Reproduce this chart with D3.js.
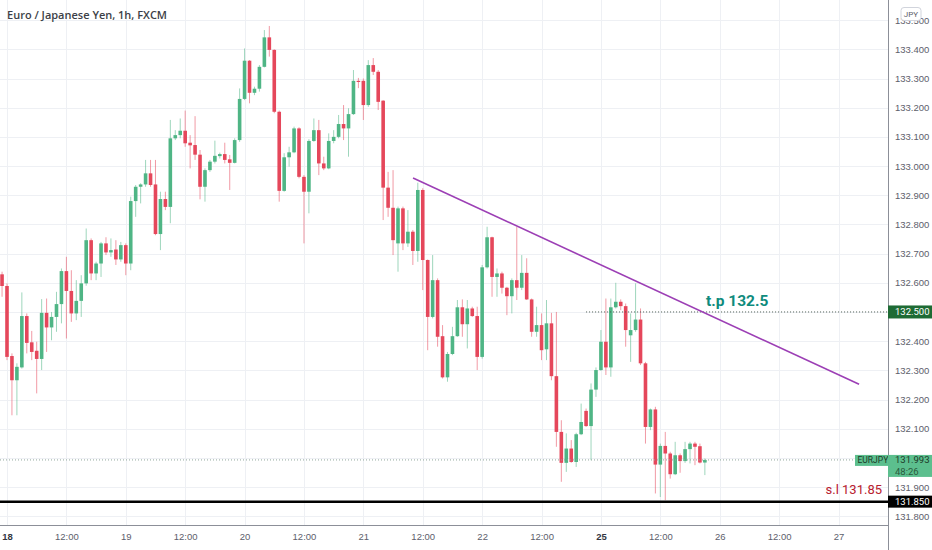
<!DOCTYPE html>
<meta charset="utf-8">
<style>
body { margin: 0; background: #fff; }
svg { display: block; font-family: Roboto, sans-serif; }
.grid line { stroke: #eef0f4; stroke-width: 1px; shape-rendering: crispEdges; }
.axis text { fill: #5d606b; font-size: 9.5px; }
.axis path, .axis line { display: none; }
</style>
<body>
<script src="https://d3js.org/d3.v7.min.js"></script>
<script>

// hourly candles, bar 0 = 18th 00:00 (bar -1 is the last hour of the 17th)
var firstBar = -1;
var opens  = [132.629,132.589,132.349,132.266,132.310,132.486,132.396,132.367,132.339,132.497,132.447,132.483,132.527,132.640,132.572,132.495,132.538,132.598,132.746,132.632,132.666,132.735,132.704,132.714,132.680,132.729,132.666,132.880,132.929,132.937,132.975,132.937,132.767,132.887,132.860,133.095,133.106,133.121,133.080,133.072,133.039,132.929,132.986,133.015,133.034,133.041,133.023,133.011,133.089,133.230,133.361,133.251,133.265,133.340,133.441,133.398,133.186,132.915,133.030,133.047,133.129,132.963,132.912,133.086,133.123,133.009,132.992,133.086,133.100,133.144,133.129,133.178,133.292,133.292,133.209,133.346,133.323,133.224,132.926,132.857,132.735,132.855,132.735,132.775,132.709,132.918,132.678,132.483,132.609,132.417,132.276,132.356,132.417,132.516,132.458,132.512,132.486,132.346,132.653,132.756,132.620,132.632,132.583,132.554,132.609,132.583,132.634,132.543,132.432,132.455,132.372,132.461,132.280,132.089,131.983,132.032,131.986,132.081,132.161,132.109,132.234,132.301,132.398,132.310,132.516,132.535,132.520,132.420,132.438,132.474,132.324,132.106,132.166,131.977,132.041,132.015,131.944,132.009,131.989,132.030,132.049,132.040,131.984];
var highs  = [132.638,132.598,132.358,132.324,132.567,132.495,132.435,132.398,132.544,132.546,132.500,132.569,132.649,132.689,132.643,132.609,132.626,132.786,132.752,132.672,132.740,132.756,132.752,132.746,132.740,132.735,132.895,132.935,132.941,133.021,133.021,133.021,132.912,132.912,133.158,133.123,133.163,133.190,133.106,133.171,133.055,132.992,133.021,133.087,133.046,133.080,133.038,133.095,133.266,133.403,133.363,133.272,133.346,133.466,133.480,133.400,133.190,133.044,133.066,133.135,133.133,132.969,133.092,133.163,133.158,133.032,133.112,133.123,133.175,133.209,133.198,133.329,133.302,133.300,133.363,133.370,133.329,133.226,132.980,132.986,132.861,132.861,132.849,132.781,132.943,132.924,132.680,132.695,132.615,132.455,132.363,132.449,132.541,132.543,132.541,132.518,132.518,132.661,132.792,132.758,132.649,132.638,132.586,132.615,132.792,132.695,132.684,132.546,132.518,132.495,132.541,132.497,132.500,132.129,132.084,132.061,132.086,132.186,132.169,132.255,132.310,132.438,132.546,132.546,132.600,132.543,132.529,132.495,132.598,132.512,132.329,132.169,132.175,132.049,132.089,132.021,132.055,132.015,132.055,132.055,132.055,132.049,131.998];
var lows   = [132.552,132.335,132.146,132.146,132.306,132.358,132.335,132.221,132.301,132.363,132.403,132.432,132.461,132.409,132.466,132.472,132.483,132.590,132.609,132.609,132.620,132.695,132.689,132.661,132.672,132.626,132.643,132.826,132.872,132.929,132.929,132.763,132.712,132.849,132.804,133.089,133.095,133.066,132.992,133.021,132.886,132.878,132.980,133.009,133.026,133.009,132.918,133.009,133.083,133.226,133.215,133.243,133.255,133.338,133.375,133.181,132.878,132.912,132.998,133.044,132.958,132.735,132.838,133.083,132.969,132.986,132.989,133.078,133.095,133.089,133.032,133.175,133.267,133.158,133.203,133.312,133.192,132.815,132.826,132.695,132.638,132.712,132.723,132.661,132.672,132.575,132.369,132.478,132.381,132.272,132.261,132.352,132.415,132.415,132.375,132.483,132.301,132.340,132.649,132.552,132.552,132.563,132.489,132.495,132.541,132.575,132.541,132.415,132.415,132.335,132.335,132.266,132.038,131.918,131.952,131.983,131.969,132.078,132.106,131.992,132.209,132.298,132.284,132.278,132.512,132.506,132.381,132.329,132.432,132.318,132.049,132.095,131.878,131.866,131.855,131.929,131.941,131.949,131.983,131.981,131.975,131.981,131.941];
var closes = [132.589,132.346,132.266,132.312,132.486,132.394,132.363,132.339,132.497,132.447,132.483,132.527,132.640,132.572,132.495,132.538,132.598,132.746,132.632,132.666,132.735,132.704,132.712,132.680,132.729,132.666,132.880,132.929,132.937,132.975,132.935,132.767,132.887,132.860,133.095,133.106,133.121,133.078,133.071,133.039,132.929,132.986,133.015,133.035,133.041,133.021,133.011,133.089,133.230,133.361,133.251,133.265,133.340,133.441,133.398,133.186,132.915,133.030,133.047,133.129,132.963,132.912,133.086,133.123,133.009,132.992,133.086,133.100,133.144,133.129,133.178,133.292,133.288,133.209,133.346,133.323,133.220,132.926,132.857,132.746,132.855,132.735,132.775,132.709,132.918,132.678,132.483,132.609,132.415,132.276,132.356,132.417,132.516,132.458,132.512,132.486,132.346,132.653,132.756,132.620,132.632,132.583,132.554,132.609,132.583,132.634,132.543,132.432,132.455,132.369,132.461,132.280,132.089,131.983,132.032,131.986,132.081,132.123,132.109,132.234,132.301,132.398,132.310,132.516,132.535,132.520,132.438,132.438,132.474,132.324,132.106,132.166,131.977,132.041,132.015,131.944,132.009,131.989,132.030,132.049,132.038,131.984,131.993];

// time axis ticks (bar index) and labels
var timeTicks  = [0,12,24,36,48,60,72,84,96,108,120,132,144,156,168];
var timeLabels = ["18","12:00","19","12:00","20","12:00","21","12:00","22","12:00","25","12:00","26","12:00","27"];
var boldLabels = ["18","25"];

// price grid levels; 132.000 sits under the live price tag, so it gets no label
var priceTicks = [131.8,131.9,132.0,132.1,132.2,132.3,132.4,132.5,132.6,132.7,132.8,132.9,133.0,133.1,133.2,133.3,133.4,133.5];
var priceLabels = [131.8,131.9,132.1,132.2,132.3,132.4,132.6,132.7,132.8,132.9,133.0,133.1,133.2,133.3,133.4,133.5];

// drawings
var trendBars   = [82.04, 172.16];
var trendPrices = [132.959, 132.252];
var tpPrice = 132.5, tpFromBar = 117;
var slPrice = 131.85;
var lastPrice = 131.993;

var W = 932, H = 550, plotW = 888, plotH = 525;

var candles = opens.map(function (o, k) {
  return { bar: firstBar + k, o: o, h: highs[k], l: lows[k], c: closes[k] };
});

var x = d3.scaleLinear().domain([-1.414, 178]).range([0, plotW]);
var y = d3.scaleLinear().domain([131.770, 133.569]).range([plotH, 0]);

var up = "#4fb585", down = "#e5475b";
var fmt = d3.format(".3f");

var svg = d3.select("body").append("svg")
    .attr("width", W)
    .attr("height", H);

// grid
var grid = svg.append("g").attr("class", "grid");
grid.selectAll(".h").data(priceTicks).enter().append("line")
    .attr("x1", 0).attr("x2", plotW)
    .attr("y1", function (d) { return Math.round(y(d)) + 0.5; })
    .attr("y2", function (d) { return Math.round(y(d)) + 0.5; });
grid.selectAll(".v").data(timeTicks).enter().append("line")
    .attr("y1", 0).attr("y2", plotH)
    .attr("x1", function (d) { return Math.round(x(d)) + 0.5; })
    .attr("x2", function (d) { return Math.round(x(d)) + 0.5; });

// candles
var cg = svg.append("g");
cg.selectAll(".wick").data(candles).enter().append("line")
    .attr("x1", function (d) { return x(d.bar); })
    .attr("x2", function (d) { return x(d.bar); })
    .attr("y1", function (d) { return y(d.h); })
    .attr("y2", function (d) { return y(d.l); })
    .attr("stroke", function (d) { return d.c >= d.o ? up : down; })
    .attr("stroke-opacity", 0.55)
    .attr("stroke-width", 1);
cg.selectAll(".body").data(candles).enter().append("rect")
    .attr("x", function (d) { return x(d.bar) - 1.8; })
    .attr("width", 3.6)
    .attr("y", function (d) { return y(Math.max(d.o, d.c)); })
    .attr("height", function (d) { return Math.max(1, Math.abs(y(d.o) - y(d.c))); })
    .attr("fill", function (d) { return d.c >= d.o ? up : down; });

// last price line
svg.append("line")
    .attr("x1", 0).attr("x2", plotW)
    .attr("y1", y(lastPrice)).attr("y2", y(lastPrice))
    .attr("stroke", "#8fa69a").attr("stroke-width", 1)
    .attr("stroke-dasharray", "1,2");

// take profit ray
svg.append("line")
    .attr("x1", x(tpFromBar)).attr("x2", plotW)
    .attr("y1", y(tpPrice)).attr("y2", y(tpPrice))
    .attr("stroke", "#4a5a50").attr("stroke-width", 1)
    .attr("stroke-dasharray", "1,2");

// stop loss line
svg.append("line")
    .attr("x1", 0).attr("x2", plotW)
    .attr("y1", y(slPrice)).attr("y2", y(slPrice))
    .attr("stroke", "#000").attr("stroke-width", 2.5);

// trend line
svg.append("line")
    .attr("x1", x(trendBars[0])).attr("y1", y(trendPrices[0]))
    .attr("x2", x(trendBars[1])).attr("y2", y(trendPrices[1]))
    .attr("stroke", "#9c3fb5").attr("stroke-width", 1.6);

// text labels
svg.append("text")
    .attr("x", 706).attr("y", 306)
    .attr("fill", "#0f8b7d")
    .style("font-size", "15.5px").style("font-weight", "bold")
    .text("t.p 132.5");

svg.append("text")
    .attr("x", 882).attr("y", 493.5)
    .attr("text-anchor", "end")
    .attr("fill", "#b8202e")
    .style("font-size", "13px")
    .text("s.l 131.85");

svg.append("text")
    .attr("x", 7).attr("y", 18.5)
    .attr("fill", "#3c3f47")
    .style("font-family", "'Open Sans', sans-serif")
    .style("font-size", "11px").style("font-weight", 600)
    .text("Euro / Japanese Yen, 1h, FXCM");

// axes
svg.append("line")
    .attr("x1", plotW + 0.5).attr("x2", plotW + 0.5)
    .attr("y1", 0).attr("y2", H)
    .attr("stroke", "#8c8f98");
svg.append("line")
    .attr("x1", 0).attr("x2", plotW)
    .attr("y1", plotH + 0.5).attr("y2", plotH + 0.5)
    .attr("stroke", "#8c8f98");

svg.append("g")
    .attr("class", "axis")
    .attr("transform", "translate(" + plotW + ",0)")
    .call(d3.axisRight(y).tickValues(priceLabels).tickFormat(fmt).tickSize(0).tickPadding(7));

svg.append("g")
    .attr("class", "axis")
    .attr("transform", "translate(0," + plotH + ")")
    .call(d3.axisBottom(x).tickValues(timeTicks)
        .tickFormat(function (d, i) { return timeLabels[i]; })
        .tickSize(0).tickPadding(8))
  .selectAll("text")
    .style("font-weight", function (d, i) { return boldLabels.indexOf(timeLabels[i]) >= 0 ? "bold" : null; })
    .style("fill", function (d, i) { return boldLabels.indexOf(timeLabels[i]) >= 0 ? "#33363f" : null; });

// price badges on the axis
function badge(price, h, fill, color, label) {
  var g = svg.append("g");
  g.append("rect")
      .attr("x", plotW).attr("y", y(price) - h / 2)
      .attr("width", W - plotW).attr("height", h)
      .attr("fill", fill);
  g.append("text")
      .attr("x", plotW + 7).attr("y", y(price) + 3.4)
      .attr("fill", color).style("font-size", "9.5px")
      .text(label);
  return g;
}

badge(tpPrice, 13, "#1e6b34", "#fff", fmt(tpPrice));
badge(slPrice, 12, "#000", "#fff", fmt(slPrice));

// current price: symbol tag + price and countdown
svg.append("rect")
    .attr("x", 855).attr("y", y(lastPrice) - 5)
    .attr("width", plotW - 855).attr("height", 11)
    .attr("fill", "#5cbf8e");
svg.append("text")
    .attr("x", 857.5).attr("y", y(lastPrice) + 3.2)
    .attr("fill", "#1c3a28").style("font-size", "8.5px")
    .text("EURJPY");
svg.append("rect")
    .attr("x", plotW).attr("y", y(lastPrice) - 5)
    .attr("width", W - plotW).attr("height", 22)
    .attr("fill", "#5cbf8e");
svg.append("text")
    .attr("x", plotW + 7).attr("y", y(lastPrice) + 3.5)
    .attr("fill", "#1c3a28").style("font-size", "9.5px")
    .text(fmt(lastPrice));
svg.append("text")
    .attr("x", plotW + 7).attr("y", y(lastPrice) + 15)
    .attr("fill", "#2a5a3c").style("font-size", "9.5px")
    .text("48:26");

// currency badge
svg.append("rect")
    .attr("x", 901).attr("y", 7.5)
    .attr("width", 20).attr("height", 13).attr("rx", 3)
    .attr("fill", "#fff").attr("stroke", "#d1d4dc");
svg.append("text")
    .attr("x", 911).attr("y", 17)
    .attr("text-anchor", "middle")
    .attr("fill", "#5d606b").style("font-size", "8px")
    .text("JPY");

</script>
</body>
</html>
